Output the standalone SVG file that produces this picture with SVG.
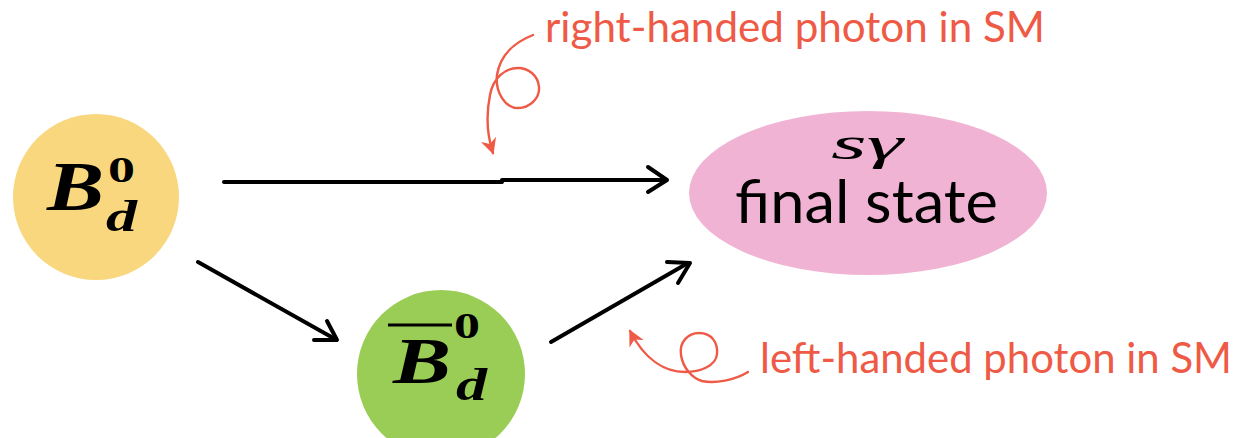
<svg xmlns="http://www.w3.org/2000/svg" width="1248" height="438" viewBox="0 0 1248 438">
<style>
.math{font-family:"Liberation Serif","DejaVu Serif",serif;font-style:italic;font-weight:bold;fill:#000}
.num{font-family:"Liberation Serif","DejaVu Serif",serif;font-weight:bold;fill:#000}
.lbl{font-family:Lato,"Open Sans",sans-serif;fill:#000}
.red{font-family:Lato,"Open Sans",sans-serif;fill:#EE5A45}
.arr{fill:none;stroke:#000;stroke-width:4;stroke-linecap:round;stroke-linejoin:round}
.curl{fill:none;stroke:#EE5A45;stroke-width:2.4;stroke-linecap:round}
</style>
<defs>
<marker id="rh" viewBox="0 0 10 10" refX="9" refY="5" markerWidth="16" markerHeight="16" orient="auto" markerUnits="userSpaceOnUse">
<path d="M0,0 L10,5 L0,10 L3,5 Z" fill="#EE5A45"/>
</marker>
</defs>
<g id="connectors">
<path class="arr" d="M224,182 L502,182 M502,180 L665,180"/>
<path class="arr" d="M648,167 L667,180 L648,192"/>
<path class="arr" d="M198,262 L335,339"/>
<path class="arr" d="M327,321 L337,340 L314,340"/>
<path class="arr" d="M551,342 L688,263"/>
<path class="arr" d="M667,262 L690,263 L678,283"/>
</g>
<g id="node-Bd">
<circle cx="96" cy="197" r="83" fill="#F9D77E"/>
<text class="math" x="47" y="210" font-size="70" textLength="57" lengthAdjust="spacingAndGlyphs">B</text>
<text class="num" x="108" y="182" font-size="36" textLength="27" lengthAdjust="spacingAndGlyphs">0</text>
<text class="math" x="106" y="231" font-size="44" textLength="31" lengthAdjust="spacingAndGlyphs">d</text>
</g>
<g id="node-Bdbar">
<circle cx="441" cy="374" r="84" fill="#9ACD55"/>
<line x1="388" y1="325" x2="452" y2="325" stroke="#000" stroke-width="3"/>
<text class="math" x="393" y="383" font-size="66" textLength="58" lengthAdjust="spacingAndGlyphs">B</text>
<text class="num" x="454" y="338" font-size="36" textLength="26" lengthAdjust="spacingAndGlyphs">0</text>
<text class="math" x="456" y="400" font-size="46" textLength="31" lengthAdjust="spacingAndGlyphs">d</text>
</g>
<g id="node-final">
<ellipse cx="868" cy="193" rx="179" ry="82" fill="#F0B3D3"/>
<text x="831" y="159" font-size="46" textLength="72" lengthAdjust="spacingAndGlyphs" style="font-family:'Liberation Serif','DejaVu Serif',serif;font-style:italic;fill:#000">sγ</text>
<text class="lbl" x="735" y="223" font-size="60" textLength="263" lengthAdjust="spacingAndGlyphs">final state</text>
</g>
<g id="note-right">
<text class="red" x="545" y="42" font-size="42" textLength="500" lengthAdjust="spacingAndGlyphs">right-handed photon in SM</text>
<path class="curl" d="M533,35 C515,42 500,55 497,75 C495,92 505,108 518,108 C530,108 540,98 539,87 C538,75 528,68 518,68 C505,68 493,78 490,95 C486,115 487,135 493,153" marker-end="url(#rh)"/>
</g>
<g id="note-left">
<text class="red" x="760" y="373" font-size="42" textLength="472" lengthAdjust="spacingAndGlyphs">left-handed photon in SM</text>
<path class="curl" d="M748,372 C735,380 715,384 702,381 C692,378 683,368 681,355 C679,342 688,333 699,333 C712,333 718,343 717,354 C716,366 700,372 685,372 C665,372 645,360 630,331" marker-end="url(#rh)"/>
</g>
</svg>
